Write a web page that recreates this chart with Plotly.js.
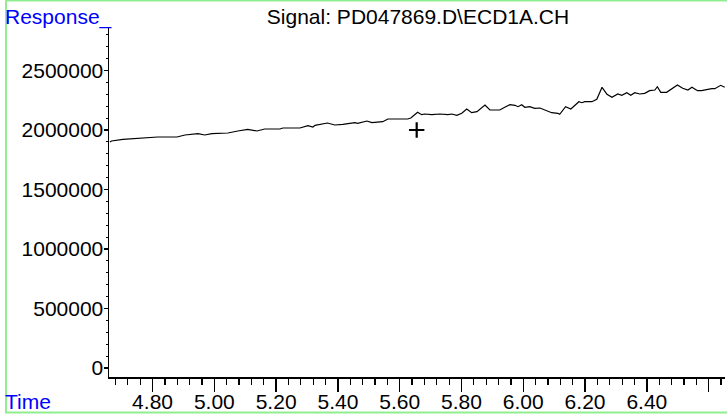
<!DOCTYPE html>
<html>
<head>
<meta charset="utf-8">
<script src="https://cdn.plot.ly/plotly-3.0.1.min.js"></script>
<style>
  html, body { margin: 0; padding: 0; background: #ffffff; }
  #chart { width: 727px; height: 416px; }
</style>
</head>
<body>
<div id="chart"></div>
<script>
// Chromatogram signal (time in min, response)
const timeValues = [4.662, 4.667, 4.704, 4.769, 4.817, 4.879, 4.905, 4.947, 4.969, 4.992,
  5.044, 5.076, 5.108, 5.138, 5.163, 5.212, 5.222, 5.277, 5.303, 5.319,
  5.326, 5.366, 5.390, 5.416, 5.455, 5.464, 5.494, 5.510, 5.545, 5.562,
  5.626, 5.636, 5.658, 5.671, 5.681, 5.704, 5.730, 5.756, 5.769, 5.785,
  5.801, 5.817, 5.833, 5.850, 5.876, 5.892, 5.924, 5.940, 5.957, 5.973,
  5.983, 5.995, 6.005, 6.021, 6.037, 6.054, 6.070, 6.092, 6.112, 6.118,
  6.137, 6.154, 6.180, 6.190, 6.199, 6.222, 6.238, 6.255, 6.271, 6.287,
  6.306, 6.319, 6.335, 6.348, 6.361, 6.377, 6.393, 6.409, 6.426, 6.434,
  6.445, 6.464, 6.499, 6.516, 6.533, 6.546, 6.564, 6.577, 6.610, 6.620,
  6.639, 6.652];
const responseValues = [1899000, 1907600, 1921900, 1930300, 1941200, 1941200, 1958000, 1968900, 1958000, 1968900,
  1974800, 1991600, 2005900, 1991600, 2008400, 2008400, 2016800, 2016800, 2036100, 2025200,
  2039500, 2058800, 2042000, 2047900, 2061400, 2056300, 2075600, 2061400, 2069800, 2092500,
  2092500, 2100900, 2148800, 2128600, 2134500, 2128600, 2134500, 2128600, 2134500, 2123500,
  2140400, 2176500, 2145400, 2153800, 2210100, 2168100, 2168100, 2190800, 2212600, 2207600,
  2195800, 2212600, 2190800, 2195800, 2182400, 2184900, 2168100, 2145400, 2140400, 2131900,
  2195800, 2176500, 2237800, 2229400, 2237800, 2237800, 2258000, 2358800, 2300000, 2274800,
  2302500, 2291600, 2313500, 2291600, 2313500, 2302500, 2308400, 2330300, 2336200, 2363900,
  2316800, 2316800, 2378200, 2350400, 2336200, 2358800, 2330300, 2330300, 2347100, 2347100,
  2375600, 2358800];

// Marker "+" on the trace
const markerTime = [5.655];
const markerResponse = [2000000];

// Axis ticks
const xTickVals = [4.8, 5.0, 5.2, 5.4, 5.6, 5.8, 6.0, 6.2, 6.4, 6.6];
const xTickText = ['4.80', '5.00', '5.20', '5.40', '5.60', '5.80', '6.00', '6.20', '6.40', ''];
const yTickVals = [0, 500000, 1000000, 1500000, 2000000, 2500000];
const yTickText = ['0', '500000', '1000000', '1500000', '2000000', '2500000'];

const titleText = 'Signal: PD047869.D\\ECD1A.CH';
const yLabel = 'Response_';
const xLabel = 'Time';

const FONT = '"Liberation Sans", Arial, sans-serif';
const FS = 21;

const traces = [
  {
    x: timeValues, y: responseValues,
    type: 'scatter', mode: 'lines',
    line: { color: '#000000', width: 1.2 },
    hoverinfo: 'skip', showlegend: false
  },
  {
    x: markerTime, y: markerResponse,
    type: 'scatter', mode: 'markers',
    marker: { symbol: 'cross-thin', size: 11, line: { color: '#000000', width: 2.2 } },
    hoverinfo: 'skip', showlegend: false, cliponaxis: false
  }
];

const plotL = 109, plotR = 725, plotT = 28, plotB = 377;
const pw = plotR - plotL, ph = plotB - plotT;
const px2paperX = p => (p - plotL) / pw;
const px2paperY = p => (plotB - p) / ph;

const layout = {
  width: 727, height: 416,
  margin: { l: plotL, r: 727 - plotR, t: plotT, b: 416 - plotB, pad: 0 },
  paper_bgcolor: '#ffffff', plot_bgcolor: '#ffffff',
  font: { family: FONT, size: FS, color: '#000000' },
  title: {
    text: titleText,
    font: { family: FONT, size: FS, color: '#000000' },
    x: 418 / 727, xanchor: 'center', xref: 'container',
    y: 1 - 17 / 416, yanchor: 'middle', yref: 'container'
  },
  xaxis: {
    range: [4.659, 6.653],
    showgrid: false, zeroline: false,
    showline: true, linecolor: '#000000', linewidth: 1.5,
    ticks: 'outside', ticklen: 13, tickwidth: 1.5, tickcolor: '#000000',
    tickmode: 'array', tickvals: xTickVals, ticktext: xTickText,
    ticklabelstandoff: -8,
    tickfont: { family: FONT, size: FS, color: '#000000' },
    minor: { tickmode: 'linear', tick0: 4.8, dtick: 0.04, ticks: 'outside', ticklen: 6, tickwidth: 1.2, tickcolor: '#000000', showgrid: false }
  },
  yaxis: {
    range: [-75630, 2857160],
    showgrid: false, zeroline: false,
    showline: true, linecolor: '#000000', linewidth: 1.5,
    ticks: 'outside', ticklen: 4, tickwidth: 1.2, tickcolor: '#000000',
    tickmode: 'array', tickvals: yTickVals, ticktext: yTickText,
    ticklabelstandoff: -4,
    tickfont: { family: FONT, size: FS, color: '#000000' },
    minor: { tickmode: 'linear', tick0: 0, dtick: 100000, ticks: 'outside', ticklen: 2, tickwidth: 1, tickcolor: '#000000', showgrid: false }
  },
  annotations: [
    {
      text: yLabel, xref: 'paper', yref: 'paper',
      x: px2paperX(3), y: px2paperY(17), xanchor: 'left', yanchor: 'middle',
      showarrow: false, font: { family: FONT, size: FS, color: '#0000ff' }
    },
    {
      text: xLabel, xref: 'paper', yref: 'paper',
      x: px2paperX(3), y: px2paperY(401), xanchor: 'left', yanchor: 'middle',
      showarrow: false, font: { family: FONT, size: FS, color: '#0000ff' }
    }
  ],
  shapes: [
    {
      type: 'rect', xref: 'paper', yref: 'paper',
      x0: px2paperX(6), x1: px2paperX(729), y0: px2paperY(412.5), y1: px2paperY(0.5),
      line: { color: '#90ee90', width: 2 }, fillcolor: 'rgba(0,0,0,0)', layer: 'below'
    }
  ]
};

Plotly.newPlot('chart', traces, layout, { staticPlot: true, displayModeBar: false });
</script>
</body>
</html>
